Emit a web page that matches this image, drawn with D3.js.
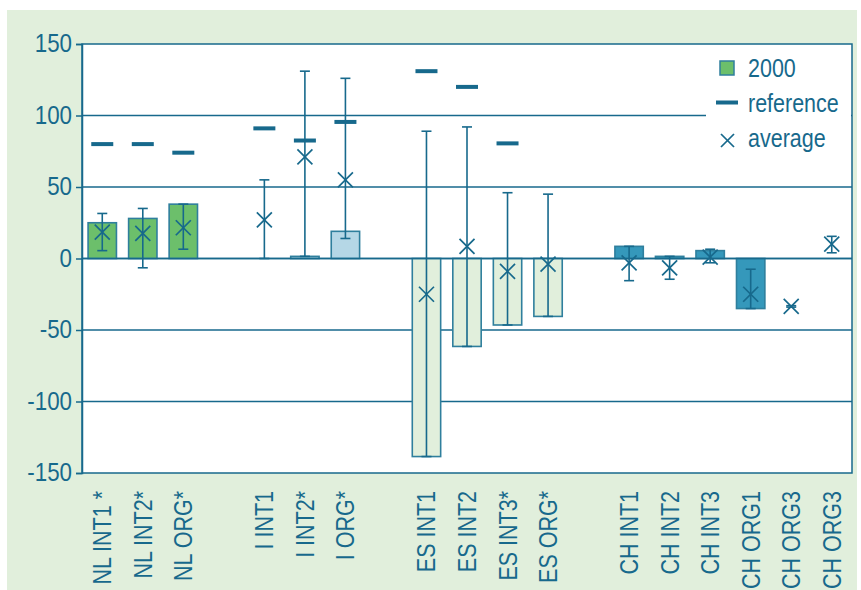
<!DOCTYPE html>
<html>
<head>
<meta charset="utf-8">
<script src="https://cdn.jsdelivr.net/npm/d3@7"></script>
<style>
  html, body { margin: 0; padding: 0; background: #ffffff; }
  svg { display: block; }
  text { font-family: "Liberation Sans", Arial, sans-serif; fill: #17698c; }
</style>
</head>
<body>
<svg id="chart" width="861" height="590"></svg>
<script>
// Sites, grouped by country
const categories = ["NL INT1 *", "NL INT2*", "NL ORG*", "I INT1", "I INT2*", "I ORG*",
  "ES INT1", "ES INT2", "ES INT3*", "ES ORG*",
  "CH INT1", "CH INT2", "CH INT3", "CH ORG1", "CH ORG3", "CH ORG3"];
const countries = ["NL", "NL", "NL", "I", "I", "I", "ES", "ES", "ES", "ES",
  "CH", "CH", "CH", "CH", "CH", "CH"];

// Values for 2000 (null = no bar)
const values2000 = [25, 28, 38, null, 1.5, 19, -138.5, -61.5, -46.5, -40.5,
  8.5, 1.5, 5.5, -35, null, null];
// Reference level (null = none)
const reference = [80, 80, 74, 91, 82.5, 95.5, 131, 120, 80.5, null,
  null, null, null, null, null, null];
// Average and its range
const average = [18.5, 17.5, 21.5, 27, 71, 55, -25, 8.5, -9, -4,
  -3, -6.5, 1, -25, -33.5, 10];
const rangeLow = [5.5, -6.5, 6.5, 0, 1.5, 14, -138.5, -61.5, -46.5, -40.5,
  -15.5, -14.5, -3, -35, -34, 4];
const rangeHigh = [31.5, 35, 38, 55, 131, 126, 89, 92, 46, 45,
  8.5, 1.5, 6.5, -7.5, -33, 15.5];

const yTicks = [-150, -100, -50, 0, 50, 100, 150];
const legendLabels = ["2000", "reference", "average"];

const fillByCountry = { NL: "#6cbf6b", I: "#b5d7e6", ES: "#e1efdc", CH: "#3598bb" };
const ink = "#17698c";
const barStroke = "#2f7f9d";
const narrow = 0.86; // horizontal squeeze for a condensed look

const svg = d3.select("#chart");

// Page and plot backgrounds
svg.append("rect").attr("x", 7).attr("y", 10).attr("width", 850).attr("height", 580)
  .attr("fill", "#e1efdc");

const plot = { left: 82, top: 44, right: 852, bottom: 473 };
svg.append("rect").attr("x", plot.left).attr("y", plot.top)
  .attr("width", plot.right - plot.left).attr("height", plot.bottom - plot.top)
  .attr("fill", "#ffffff");

// Slot list with a blank slot between countries
const slots = [];
categories.forEach((c, i) => {
  if (i > 0 && countries[i] !== countries[i - 1]) slots.push("gap" + i);
  slots.push("c" + i);
});

const x = d3.scaleBand().domain(slots).range([plot.left, plot.right]).padding(0);
const y = d3.scaleLinear().domain([-150, 150]).range([plot.bottom, plot.top]);
const cx = i => x("c" + i) + x.bandwidth() / 2;
const barW = x.bandwidth() * 0.7;

// Horizontal grid lines
svg.append("g").selectAll("line").data(yTicks.filter(t => t !== 150 && t !== -150)).join("line")
  .attr("x1", plot.left).attr("x2", plot.right)
  .attr("y1", d => y(d)).attr("y2", d => y(d))
  .attr("stroke", ink).attr("stroke-width", 1.3);

// Legend box (white panel over the grid)
svg.append("rect").attr("x", 706).attr("y", 50).attr("width", 145).attr("height", 112)
  .attr("fill", "#ffffff");

// Frame
svg.append("rect").attr("x", plot.left).attr("y", plot.top)
  .attr("width", plot.right - plot.left).attr("height", plot.bottom - plot.top)
  .attr("fill", "none").attr("stroke", ink).attr("stroke-width", 1.5);

// Y axis (plain hyphen for negatives)
const yAxis = d3.axisLeft(y).tickValues(yTicks).tickSize(6).tickPadding(4)
  .tickFormat(d => String(d));
const gy = svg.append("g").attr("transform", `translate(${plot.left},0)`).call(yAxis);
gy.select(".domain").attr("stroke", ink).attr("stroke-width", 1.5);
gy.selectAll(".tick line").attr("stroke", ink).attr("stroke-width", 1.5);
gy.selectAll(".tick text").attr("fill", ink).attr("font-size", 26)
  .attr("font-family", null).attr("dy", "0.3em")
  .attr("x", -10 / narrow).attr("transform", `scale(${narrow},1)`);

// Bars
const idx = d3.range(categories.length);
svg.append("g").selectAll("rect").data(idx.filter(i => values2000[i] !== null)).join("rect")
  .attr("x", i => cx(i) - barW / 2)
  .attr("width", barW)
  .attr("y", i => y(Math.max(0, values2000[i])))
  .attr("height", i => Math.abs(y(values2000[i]) - y(0)))
  .attr("fill", i => fillByCountry[countries[i]])
  .attr("stroke", barStroke).attr("stroke-width", 1.6);

// Zero line on top of the bars
svg.append("line").attr("x1", plot.left).attr("x2", plot.right)
  .attr("y1", y(0)).attr("y2", y(0)).attr("stroke", ink).attr("stroke-width", 1.3);

// Range bars
const cap = 5;
const eb = svg.append("g").attr("stroke", ink).attr("stroke-width", 1.6);
idx.forEach(i => {
  eb.append("line").attr("x1", cx(i)).attr("x2", cx(i))
    .attr("y1", y(rangeLow[i])).attr("y2", y(rangeHigh[i]));
  [rangeLow[i], rangeHigh[i]].forEach(v => {
    eb.append("line").attr("x1", cx(i) - cap).attr("x2", cx(i) + cap)
      .attr("y1", y(v)).attr("y2", y(v));
  });
});

// Reference dashes
svg.append("g").selectAll("rect").data(idx.filter(i => reference[i] !== null)).join("rect")
  .attr("x", i => cx(i) - 11).attr("width", 22)
  .attr("y", i => y(reference[i]) - 2).attr("height", 4)
  .attr("fill", ink);

// Average crosses
const xr = 7.5;
const cross = (g, px, py, r) => {
  g.append("line").attr("x1", px - r).attr("y1", py - r).attr("x2", px + r).attr("y2", py + r);
  g.append("line").attr("x1", px - r).attr("y1", py + r).attr("x2", px + r).attr("y2", py - r);
};
const avgG = svg.append("g").attr("stroke", ink).attr("stroke-width", 1.7);
idx.forEach(i => cross(avgG, cx(i), y(average[i]), xr));

// X labels, rotated
svg.append("g").selectAll("text").data(idx).join("text")
  .attr("transform", i => `translate(${cx(i)},491) rotate(-90) scale(${narrow},1)`)
  .attr("text-anchor", "end").attr("dy", "0.36em")
  .attr("font-size", 25)
  .text(i => categories[i]);

// Legend
const lg = svg.append("g");
lg.append("rect").attr("x", 720).attr("y", 61).attr("width", 14).attr("height", 14)
  .attr("fill", fillByCountry.NL).attr("stroke", barStroke).attr("stroke-width", 1.5);
lg.append("rect").attr("x", 716).attr("y", 100.5).attr("width", 22).attr("height", 4)
  .attr("fill", ink);
const lgX = lg.append("g").attr("stroke", ink).attr("stroke-width", 1.7);
cross(lgX, 727.5, 140.5, 6.5);
lg.selectAll("text").data(legendLabels).join("text")
  .attr("x", 748 / narrow).attr("y", (d, k) => 77 + k * 35)
  .attr("transform", `scale(${narrow},1)`)
  .attr("font-size", 25)
  .text(d => d);
</script>
</body>
</html>
